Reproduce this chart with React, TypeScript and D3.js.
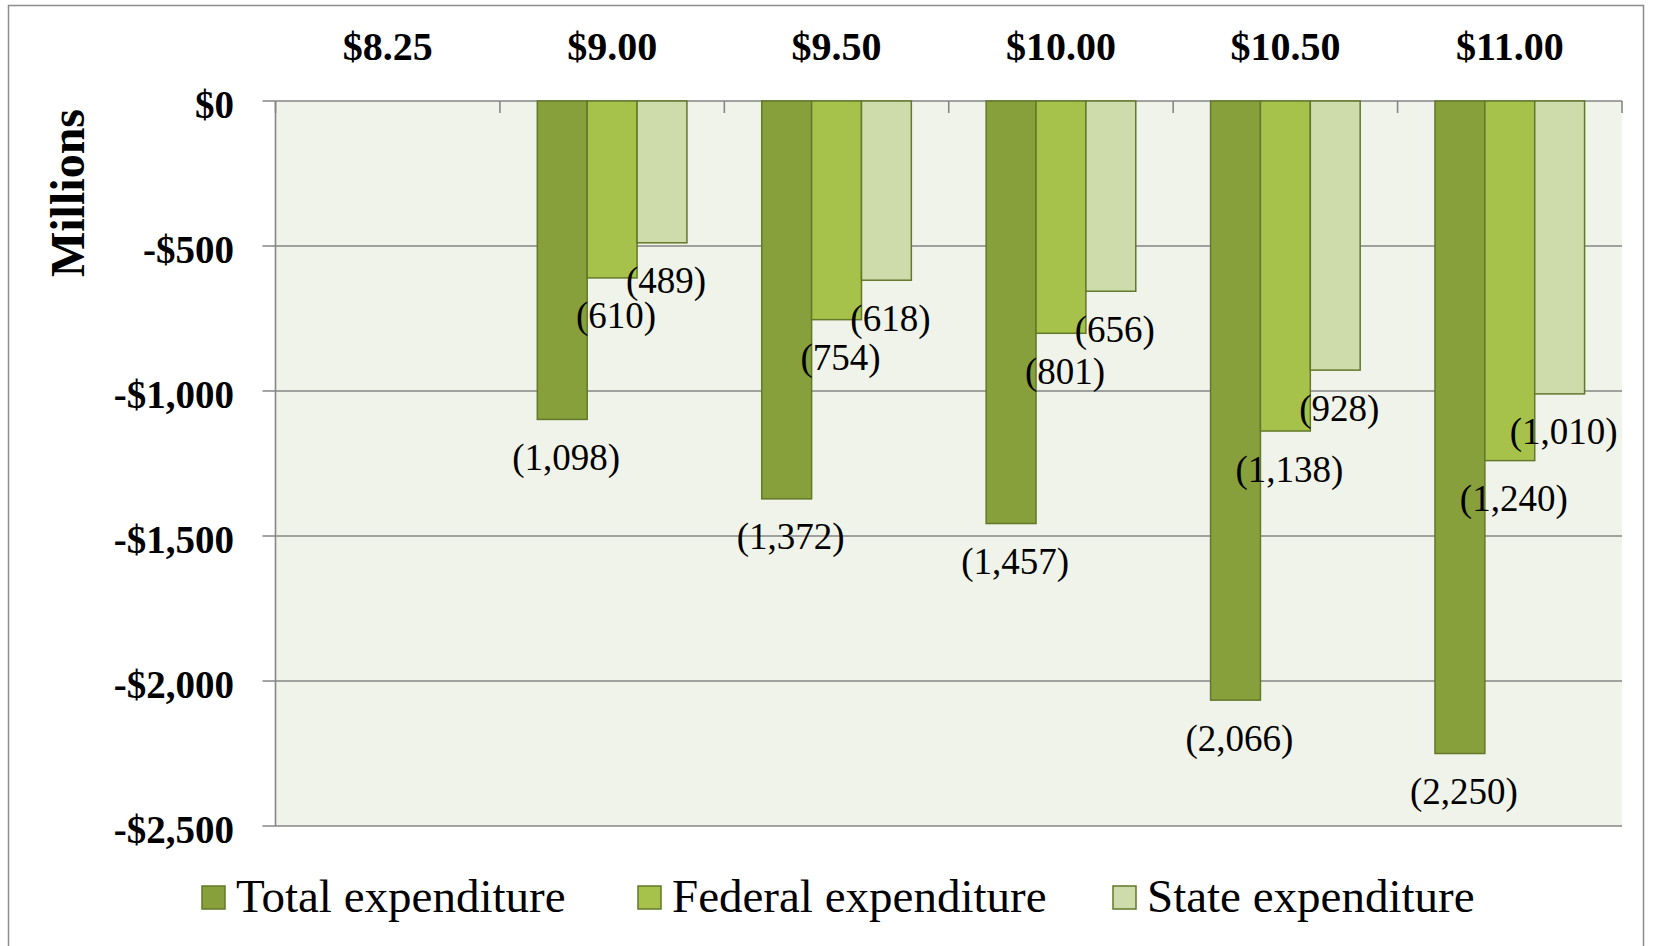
import React, { useEffect, useRef } from "react";
import * as d3 from "d3";

// wage levels (top axis)
const categories = ["$8.25", "$9.00", "$9.50", "$10.00", "$10.50", "$11.00"];
const seriesNames = ["Total expenditure", "Federal expenditure", "State expenditure"];
// millions, shown as negatives; null = no bar
const totalValues = [null, 1098, 1372, 1457, 2066, 2250];
const federalValues = [null, 610, 754, 801, 1138, 1240];
const stateValues = [null, 489, 618, 656, 928, 1010];
const yTicks = [0, -500, -1000, -1500, -2000, -2500];

const colors = ["#88a03c", "#a7c24a", "#cedbaa"];

export default function App() {
    const ref = useRef<SVGSVGElement | null>(null);

    useEffect(() => {
        const svg = d3.select(ref.current);
        svg.selectAll("*").remove();

        const W = 1653, H = 946;
        const left = 275.5, right = 1622, top = 101, bottom = 826;
        const font = "'Liberation Serif', 'Times New Roman', serif";

        // frame
        svg.append("rect")
            .attr("x", 8.5).attr("y", 5.5)
            .attr("width", W - 18).attr("height", H + 10)
            .attr("fill", "#fff")
            .attr("stroke", "#8c8c8c")
            .attr("stroke-width", 1.5);

        const x0 = d3.scaleBand<string>().domain(categories).range([left, right]).paddingInner(0);
        const x1 = d3.scaleBand<string>().domain(seriesNames).range([0, x0.bandwidth()]).paddingInner(0).paddingOuter(0.75);
        const y = d3.scaleLinear().domain([-2500, 0]).range([bottom, top]);

        // plot bg
        svg.append("rect")
            .attr("x", left).attr("y", top)
            .attr("width", right - left).attr("height", bottom - top)
            .attr("fill", "#f0f3e9");

        // gridlines + left ticks
        svg.append("g").selectAll("line")
            .data(yTicks)
            .enter().append("line")
            .attr("x1", left - 13).attr("x2", right)
            .attr("y1", d => y(d)).attr("y2", d => y(d))
            .attr("stroke", "#868686")
            .attr("stroke-width", 1.6);

        // y axis line
        svg.append("line")
            .attr("x1", left).attr("x2", left)
            .attr("y1", top).attr("y2", bottom)
            .attr("stroke", "#868686").attr("stroke-width", 1.6);

        // category ticks on zero line
        const bounds = categories.map(c => (x0(c) as number) + x0.bandwidth()).concat([left]);
        svg.append("g").selectAll("line")
            .data(bounds)
            .enter().append("line")
            .attr("x1", d => d).attr("x2", d => d)
            .attr("y1", top).attr("y2", top + 12)
            .attr("stroke", "#868686").attr("stroke-width", 1.6);

        // y tick labels
        const yFmt = (d: number) => (d < 0 ? "-" : "") + "$" + d3.format(",")(Math.abs(d));
        svg.append("g").selectAll("text")
            .data(yTicks)
            .enter().append("text")
            .attr("x", 234)
            .attr("y", d => y(d) + 3)
            .attr("text-anchor", "end")
            .attr("dominant-baseline", "central")
            .style("font-family", font)
            .style("font-size", "39px")
            .style("font-weight", "bold")
            .text(d => yFmt(d));

        // category labels (top)
        svg.append("g").selectAll("text")
            .data(categories)
            .enter().append("text")
            .attr("x", d => (x0(d) as number) + x0.bandwidth() / 2)
            .attr("y", 60)
            .attr("text-anchor", "middle")
            .style("font-family", font)
            .style("font-size", "40px")
            .style("font-weight", "bold")
            .text(d => d);

        // axis title
        svg.append("text")
            .attr("transform", "translate(84,193) rotate(-90)")
            .attr("text-anchor", "middle")
            .style("font-family", font)
            .style("font-size", "48px")
            .style("font-weight", "bold")
            .text("Millions");

        const seriesData = [totalValues, federalValues, stateValues];
        const rows: { cat: string, s: string, v: number, i: number }[] = [];
        categories.forEach((c, ci) => {
            seriesNames.forEach((s, si) => {
                const v = seriesData[si][ci];
                if (v != null) rows.push({ cat: c, s: s, v: v, i: si });
            });
        });

        // bars
        svg.append("g").selectAll("rect")
            .data(rows)
            .enter().append("rect")
            .attr("x", d => (x0(d.cat) as number) + (x1(d.s) as number))
            .attr("y", y(0))
            .attr("width", x1.bandwidth())
            .attr("height", d => y(-d.v) - y(0))
            .attr("fill", d => colors[d.i])
            .attr("stroke", "#62782a")
            .attr("stroke-width", 1.5);

        // data labels
        svg.append("g").selectAll("text")
            .data(rows)
            .enter().append("text")
            .attr("x", d => (x0(d.cat) as number) + (x1(d.s) as number) + x1.bandwidth() / 2 + 4)
            .attr("y", d => y(-d.v) + 38)
            .attr("text-anchor", "middle")
            .attr("dominant-baseline", "central")
            .style("font-family", font)
            .style("font-size", "37px")
            .text(d => "(" + d3.format(",")(d.v) + ")");

        // legend
        const legendX = [202, 638, 1113];
        const lg = svg.append("g").selectAll("g")
            .data(seriesNames)
            .enter().append("g")
            .attr("transform", (d, i) => "translate(" + legendX[i] + ",886)");
        lg.append("rect")
            .attr("x", 0).attr("y", 0)
            .attr("width", 23).attr("height", 23)
            .attr("fill", (d, i) => colors[i])
            .attr("stroke", "#62782a")
            .attr("stroke-width", 1.5);
        lg.append("text")
            .attr("x", 34)
            .attr("y", 26)
            .style("font-family", font)
            .style("font-size", "47px")
            .text(d => d);
    }, []);

    return (
        <svg ref={ref} width={1653} height={946}
            style={{ position: "absolute", left: 0, top: 0, background: "#fff" }} />
    );
}
